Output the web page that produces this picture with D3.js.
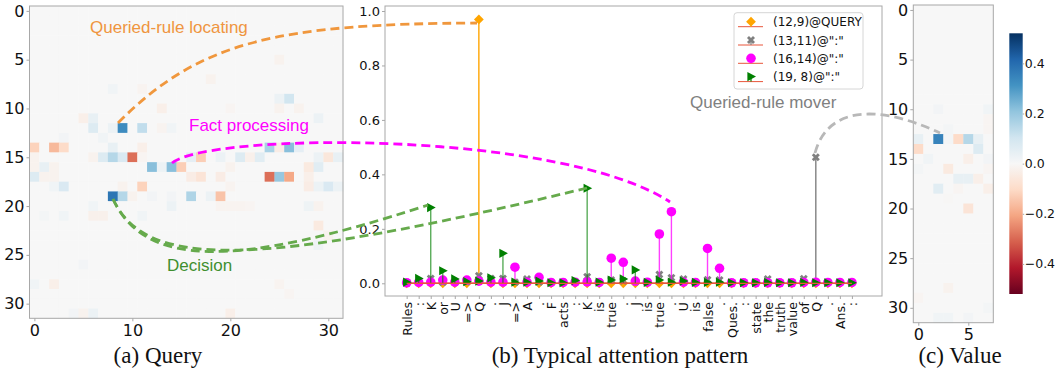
<!DOCTYPE html>
<html>
<head>
<meta charset="utf-8">
<script src="https://cdn.jsdelivr.net/npm/d3@7"></script>
<style>
  body { margin: 0; background: #fff; }
  text { font-family: 'DejaVu Sans', sans-serif; }
</style>
</head>
<body>
<svg id="fig" width="1055" height="375"></svg>
<script>
// ---- data -------------------------------------------------------------
// query matrix (32 x 32), only the non-zero cells: [row, col, value]
const queryCells = [
  [5, 25, -0.02], [7, 18, -0.02], [8, 8, 0.02], [8, 11, -0.015],
  [9, 25, 0.03], [9, 26, 0.1],
  [10, 13, -0.03], [10, 20, -0.01], [10, 25, -0.02], [10, 27, -0.02],
  [11, 5, -0.03], [11, 6, 0.04], [11, 29, 0.03],
  [12, 6, 0.07], [12, 8, 0.03], [12, 9, 0.33], [12, 11, 0.13], [12, 13, -0.015], [12, 14, 0.02],
  [13, 3, 0.015], [13, 7, 0.02],
  [14, 0, -0.12], [14, 2, -0.17], [14, 3, -0.1], [14, 8, 0.04], [14, 11, -0.03],
  [14, 24, 0.17], [14, 25, -0.04], [14, 26, 0.22], [14, 27, 0.05],
  [15, 0, -0.02], [15, 6, -0.02], [15, 7, 0.07], [15, 8, 0.15], [15, 9, 0.08], [15, 10, -0.29],
  [15, 11, -0.01], [15, 16, 0.05], [15, 17, -0.13], [15, 19, 0.03], [15, 21, 0.07],
  [15, 22, -0.025], [15, 23, 0.06], [15, 29, 0.03], [15, 30, -0.06], [15, 31, 0.04],
  [16, 0, -0.02], [16, 1, 0.04], [16, 2, -0.02], [16, 12, 0.22], [16, 13, 0.03],
  [16, 14, 0.22], [16, 15, -0.13], [16, 20, -0.02], [16, 28, -0.05], [16, 29, 0.06],
  [17, 0, 0.07], [17, 1, -0.02], [17, 2, -0.02], [17, 16, -0.04], [17, 17, -0.07],
  [17, 19, -0.04], [17, 24, -0.29], [17, 25, 0.2], [17, 26, -0.2], [17, 28, -0.03],
  [18, 2, 0.02], [18, 3, 0.08], [18, 9, -0.02], [18, 11, -0.12], [18, 20, -0.015],
  [18, 28, -0.04], [18, 29, 0.03], [18, 30, 0.08], [18, 31, 0.03],
  [19, 8, 0.38], [19, 9, 0.15], [19, 10, -0.02], [19, 12, 0.015], [19, 14, 0.015],
  [19, 16, 0.16], [19, 18, 0.03], [19, 19, -0.15],
  [20, 6, 0.02], [20, 14, 0.03], [20, 19, -0.015], [20, 20, -0.015], [20, 21, -0.015],
  [20, 22, -0.01], [20, 28, 0.025], [20, 29, -0.02],
  [21, 1, 0.01], [21, 3, 0.02], [21, 6, -0.025], [21, 7, -0.025], [21, 11, 0.02],
  [22, 29, -0.05], [23, 30, -0.02], [24, 29, 0.025], [26, 5, 0.015],
  [28, 0, 0.02], [28, 2, -0.03], [28, 25, -0.015], [29, 26, -0.01],
  [31, 4, 0.015], [31, 5, -0.02], [31, 6, 0.03], [31, 20, -0.03]
]

// value matrix (32 x 8), non-zero cells
const valueCells = [
  [10, 2, 0.015], [10, 7, 0.02], [11, 7, -0.01], [12, 7, -0.01], [12, 3, 0.01],
  [13, 0, 0.04], [13, 2, 0.35], [13, 3, 0.01], [13, 4, -0.1], [13, 5, 0.15], [13, 6, 0.04],
  [14, 0, -0.1], [14, 6, 0.07],
  [15, 1, 0.02], [15, 5, -0.03], [15, 7, 0.015],
  [16, 0, 0.01], [16, 3, -0.05], [16, 7, -0.01],
  [17, 4, 0.04], [17, 5, 0.04], [17, 6, -0.03],
  [18, 2, 0.06], [18, 4, -0.01], [18, 7, -0.03],
  [19, 3, -0.005], [20, 5, -0.07],
  [28, 3, -0.02], [29, 0, -0.01], [30, 7, 0.01], [31, 2, 0.02], [31, 3, 0.02], [31, 5, 0.015]
]

const tokens = ['Rules', ':', 'K', 'or', 'U', '=>', 'Q', '.', 'J', '=>', 'A', '.', 'F', 'acts', ':',
  'K', 'is', 'true', '.', 'J', 'is', 'true', '.', 'U', 'is', 'false', '.', 'Ques.', ':',
  'state', 'the', 'truth', 'value', 'of', 'Q', '.', 'Ans.', ':']

const seriesNames = ['(12,9)@QUERY', '(13,11)@":"', '(16,14)@":"', '(19, 8)@":"']

const queryHead = [0, 0, 0, 0, 0, 0, 0.969, 0, 0, 0, 0, 0, 0, 0, 0, 0, 0, 0, 0,
  0, 0, 0, 0, 0, 0, 0, 0, 0, 0, 0, 0, 0, 0, 0, 0, 0, 0, 0]
const moverHead = [0.003, 0.005, 0.018, 0.004, 0.005, 0.006, 0.028, 0.018, 0.018, 0.004,
  0.016, 0.005, 0.004, 0.004, 0.006, 0.024, 0.004, 0.012, 0.008, 0.006, 0.004, 0.032,
  0.02, 0.016, 0.004, 0.013, 0.012, 0.003, 0.003, 0.004, 0.016, 0.003, 0.004, 0.017,
  0.463, 0.004, 0.004, 0.003]
const factHead = [0.002, 0.003, 0.004, 0.012, 0.004, 0.012, 0.008, 0.004, 0.004, 0.059,
  0.004, 0.022, 0.003, 0.003, 0.004, 0.005, 0.003, 0.092, 0.077, 0.008, 0.004, 0.181,
  0.263, 0.004, 0.003, 0.128, 0.055, 0.002, 0.002, 0.002, 0.002, 0.002, 0.002, 0.003,
  0.004, 0.003, 0.003, 0.003]
const decisionHead = [0.004, 0.018, 0.278, 0.046, 0.016, 0.006, 0.008, 0.02, 0.11, 0.004,
  0.004, 0.008, 0.002, 0.002, 0.01, 0.349, 0.004, 0.012, 0.016, 0.049, 0.003, 0.012,
  0.004, 0.008, 0.003, 0.003, 0.004, 0.002, 0.002, 0.002, 0.003, 0.002, 0.002, 0.003,
  0.002, 0.002, 0.002, 0.002]

const colorbarTicks = [-0.4, -0.2, 0, 0.2, 0.4]

// matplotlib's RdBu is a straight piecewise blend of these
const rdbu = ['#67001f', '#b2182b', '#d6604d', '#f4a582', '#fddbc7', '#f7f7f7',
  '#d1e5f0', '#92c5de', '#4393c3', '#2166ac', '#053061']

// ---- drawing -----------------------------------------------------------
const svg = d3.select('#fig')
const AXIS_GRAY = '#a8a8a8'
const rdbuInterp = d3.piecewise(d3.interpolateRgb, rdbu)
const color = d3.scaleSequential(rdbuInterp).domain([-0.52, 0.52])

function styleAxis(g, size) {
  g.select('.domain').remove()
  g.selectAll('.tick line').attr('stroke', AXIS_GRAY)
  g.selectAll('.tick text').attr('fill', '#111').style('font-size', size + 'px')
}

function heatmap(cells, nRows, nCols, box, xTicks, yTicks) {
  const grid = d3.range(nRows * nCols).map(k => ({ r: Math.floor(k / nCols), c: k % nCols, v: 0 }))
  cells.forEach(([r, c, v]) => { grid[r * nCols + c].v = v })

  const x = d3.scaleLinear().domain([-0.5, nCols - 0.5]).range([box.x0, box.x1])
  const y = d3.scaleLinear().domain([-0.5, nRows - 0.5]).range([box.y0, box.y1])
  const g = svg.append('g')

  g.selectAll('rect.cell').data(grid).join('rect')
    .attr('class', 'cell')
    .attr('x', d => x(d.c - 0.5))
    .attr('y', d => y(d.r - 0.5))
    .attr('width', x(1) - x(0) + 0.4)
    .attr('height', y(1) - y(0) + 0.4)
    .attr('fill', d => color(d.v))

  g.append('rect')
    .attr('x', box.x0).attr('y', box.y0)
    .attr('width', box.x1 - box.x0).attr('height', box.y1 - box.y0)
    .attr('fill', 'none').attr('stroke', AXIS_GRAY)

  g.append('g').attr('transform', `translate(0,${box.y1})`)
    .call(d3.axisBottom(x).tickValues(xTicks).tickSize(3).tickPadding(3))
    .call(a => styleAxis(a, 16))
  g.append('g').attr('transform', `translate(${box.x0},0)`)
    .call(d3.axisLeft(y).tickValues(yTicks).tickSize(3).tickPadding(2))
    .call(a => styleAxis(a, 16))
}

// (a) Query
heatmap(queryCells, 32, 32, { x0: 29.5, x1: 343, y0: 6, y1: 318.3 },
  [0, 10, 20, 30], [0, 5, 10, 15, 20, 25, 30])

// (c) Value
heatmap(valueCells, 32, 8, { x0: 913.3, x1: 993.3, y0: 5, y1: 322.7 },
  [0, 5], [0, 5, 10, 15, 20, 25, 30])

// colorbar
const cb = { x0: 1009.3, x1: 1022.7, y0: 33.3, y1: 294 }
const cy = d3.scaleLinear().domain(color.domain()).range([cb.y1, cb.y0])
const grad = svg.append('defs').append('linearGradient')
  .attr('id', 'cbar').attr('x1', 0).attr('x2', 0).attr('y1', 1).attr('y2', 0)
grad.selectAll('stop').data(d3.range(0, 1.0001, 0.02)).join('stop')
  .attr('offset', d => d)
  .attr('stop-color', d => rdbuInterp(d))
svg.append('rect')
  .attr('x', cb.x0).attr('y', cb.y0)
  .attr('width', cb.x1 - cb.x0).attr('height', cb.y1 - cb.y0)
  .attr('fill', 'url(#cbar)')
svg.append('g').attr('transform', `translate(${cb.x1},0)`)
  .call(d3.axisRight(cy).tickValues(colorbarTicks).tickSize(1.5).tickPadding(0.5)
    .tickFormat(d => d3.format('.1f')(d).replace('-', '\u2212')))
  .call(a => styleAxis(a, 12.5))

// (b) stem plot
const sx = d3.scaleLinear().domain([-1.8, 39.5]).range([385, 882])
const sy = d3.scaleLinear().domain([-0.0467, 1.0184]).range([296, 6])
const stemG = svg.append('g')

stemG.append('rect')
  .attr('x', 385).attr('y', 6).attr('width', 882 - 385).attr('height', 296 - 6)
  .attr('fill', 'none').attr('stroke', AXIS_GRAY)

stemG.append('g').attr('transform', 'translate(0,296)')
  .call(d3.axisBottom(sx).tickValues(d3.range(tokens.length)).tickSize(3).tickFormat(i => tokens[i]))
  .call(a => styleAxis(a, 12.5))
  .call(a => a.selectAll('.tick text')
    .attr('transform', 'rotate(-90)')
    .attr('text-anchor', 'end')
    .attr('x', -6).attr('y', 0).attr('dy', '0.36em'))

stemG.append('g').attr('transform', 'translate(385,0)')
  .call(d3.axisLeft(sy).tickValues([0, 0.2, 0.4, 0.6, 0.8, 1.0]).tickSize(3).tickPadding(2)
    .tickFormat(d3.format('.1f')))
  .call(a => styleAxis(a, 13))

const diamond = d3.symbol(d3.symbolSquare, 48)()
const cross = d3.symbol(d3.symbolCross, 40)()
const circle = d3.symbol(d3.symbolCircle, 72)()
const triRight = 'M-3.6,-4.6L5,0L-3.6,4.6Z'

const series = [
  { name: seriesNames[0], values: queryHead, color: '#ffa500', stemOpacity: 1, path: diamond, rot: 45 },
  { name: seriesNames[1], values: moverHead, color: '#808080', stemOpacity: 1, path: cross, rot: 45 },
  { name: seriesNames[2], values: factHead, color: '#ff00ff', stemOpacity: 0.75, path: circle, rot: 0 },
  { name: seriesNames[3], values: decisionHead, color: '#008000', stemOpacity: 0.65, path: triRight, rot: 0 }
]

series.forEach(s => {
  const g = stemG.append('g')
  g.selectAll('line.stem').data(s.values).join('line')
    .attr('x1', (d, i) => sx(i)).attr('x2', (d, i) => sx(i))
    .attr('y1', sy(0)).attr('y2', d => sy(d))
    .attr('stroke', s.color).attr('stroke-opacity', s.stemOpacity).attr('stroke-width', 1.4)
  g.selectAll('path.mk').data(s.values).join('path')
    .attr('transform', (d, i) => `translate(${sx(i)},${sy(d)}) rotate(${s.rot})`)
    .attr('d', s.path).attr('fill', s.color)
  g.append('line')
    .attr('x1', sx(0)).attr('x2', sx(tokens.length - 1))
    .attr('y1', sy(0)).attr('y2', sy(0))
    .attr('stroke', '#e8553a').attr('stroke-width', 1.2)
})

// legend
const lg = stemG.append('g')
lg.append('rect')
  .attr('x', 734).attr('y', 12.7).attr('width', 129).attr('height', 76.3).attr('rx', 3)
  .attr('fill', '#fff').attr('fill-opacity', 0.85).attr('stroke', '#d6d6d6')
series.forEach((s, k) => {
  const yy = 21.7 + k * 18.3
  lg.append('line').attr('x1', 738).attr('x2', 763).attr('y1', yy + 5).attr('y2', yy + 5)
    .attr('stroke', '#e8553a').attr('stroke-width', 1)
  lg.append('line').attr('x1', 751).attr('x2', 751).attr('y1', yy + 5).attr('y2', yy)
    .attr('stroke', s.color).attr('stroke-width', 1.2)
  lg.append('path').attr('transform', `translate(751,${yy}) rotate(${s.rot})`)
    .attr('d', s.path).attr('fill', s.color)
  lg.append('text').attr('x', 773).attr('y', yy + 4.5)
    .style('font-size', '12px').attr('fill', '#111').text(s.name)
})

// ---- annotations across panels -------------------------------------------
const notes = svg.append('g').attr('fill', 'none').attr('stroke-width', 2.8)
  .attr('stroke-dasharray', '9,5')
const curves = [
  { d: 'M118,123 C200,40 280,24 477,23', color: '#f0973d' },
  { d: 'M172,163 C210,132 560,130 670,202', color: '#ff00ff' },
  { d: 'M113,199 C145,268 235,268 428,205', color: '#66aa4c' },
  { d: 'M113,199 C145,268 250,270 587,188', color: '#66aa4c' },
  { d: 'M815,153 C828,105 880,105 940,133', color: '#b8b8b8' }
]
notes.selectAll('path').data(curves).join('path')
  .attr('d', d => d.d).attr('stroke', d => d.color)

const labels = [
  { t: 'Queried-rule locating', x: 90, y: 33, color: '#ef9540' },
  { t: 'Fact processing', x: 189, y: 131, color: '#ff00ff' },
  { t: 'Decision', x: 167, y: 271, color: '#3f8f2f' },
  { t: 'Queried-rule mover', x: 690, y: 108, color: '#808080' }
]
svg.append('g').selectAll('text').data(labels).join('text')
  .attr('x', d => d.x).attr('y', d => d.y).attr('fill', d => d.color)
  .style('font-family', "'Liberation Sans', Arial, sans-serif").style('font-size', '17px')
  .text(d => d.t)

// captions
const captions = [
  { t: '(a) Query', x: 158 },
  { t: '(b) Typical attention pattern', x: 620 },
  { t: '(c) Value', x: 960 }
]
svg.append('g').selectAll('text').data(captions).join('text')
  .attr('x', d => d.x).attr('y', 363).attr('text-anchor', 'middle').attr('fill', '#111')
  .style('font-family', "'Liberation Serif', 'Times New Roman', serif").style('font-size', '23px')
  .text(d => d.t)
</script>
</body>
</html>
